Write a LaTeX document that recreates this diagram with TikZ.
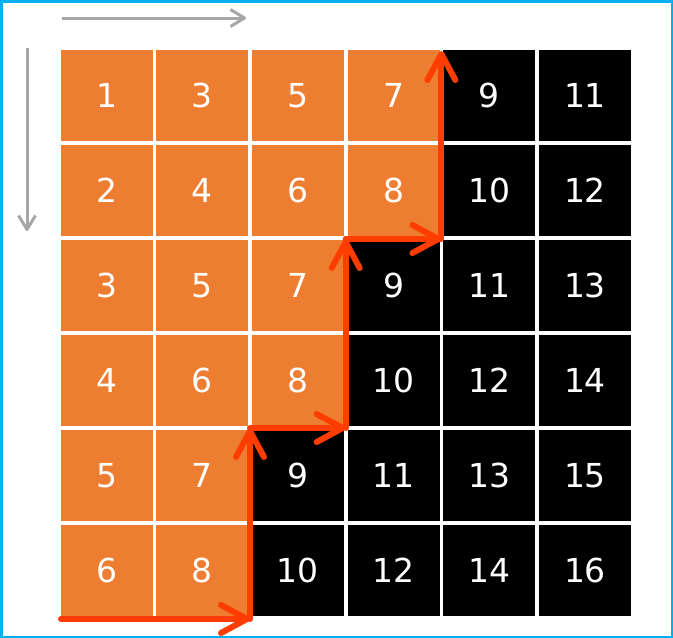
\documentclass[tikz,border=0pt]{standalone}
\usepackage{fontspec}
\setmainfont{DejaVu Sans}
\usetikzlibrary{arrows.meta}
\definecolor{cellorange}{RGB}{237,125,49}
\definecolor{pathred}{RGB}{255,61,0}
\definecolor{axisgray}{RGB}{166,166,166}
\definecolor{framecyan}{RGB}{0,176,240}

\begin{document}
\begin{tikzpicture}[x=1pt,y=-1pt,
 cell/.style={minimum width=92pt,minimum height=91pt,inner sep=0pt,
 text=white,font=\fontsize{33}{40}\selectfont},
 stairseg/.style={pathred,line width=6pt,line cap=round,
 -{Straight Barb[length=26pt,width=28pt,line cap=round,line join=round]}},
 axisarrow/.style={axisgray,line width=3pt,
 -{Straight Barb[length=14pt,width=17pt,line join=round]}}]
\useasboundingbox (0,0) rectangle (673,638);
\draw[framecyan,line width=2.5pt] (1.25,1.25) rectangle (671.75,636.75);
% table of values
\foreach \r in {0,...,5} {
 \foreach \c in {0,...,5} {
 \pgfmathtruncatemacro\val{\r+2*\c+1}
 \ifnum\val<9 \def\cellfill{cellorange}\else\def\cellfill{black}\fi
 \node[cell,fill=\cellfill] (c\r\c) at ({106.5+95.7*\c},{95.5+95*\r}) {\val};
 }
}
% direction arrows
\coordinate (xs) at (62,18);
\coordinate (xe) at (246,18);
\coordinate (ys) at (27,48);
\coordinate (ye) at (27,231);
\draw[axisarrow] (xs) -- (xe);
\draw[axisarrow] (ys) -- (ye);
% staircase path
\coordinate (p0) at (61,619);
\coordinate (p1) at (250,619);
\coordinate (p2) at (250,428);
\coordinate (p3) at (345.7,428);
\coordinate (p4) at (345.7,239);
\coordinate (p5) at (441.4,239);
\coordinate (p6) at (441.4,51);
\foreach \a/\b in {p0/p1,p1/p2,p2/p3,p3/p4,p4/p5,p5/p6} {
 \draw[stairseg] (\a) -- (\b);
}
\end{tikzpicture}
\end{document}
